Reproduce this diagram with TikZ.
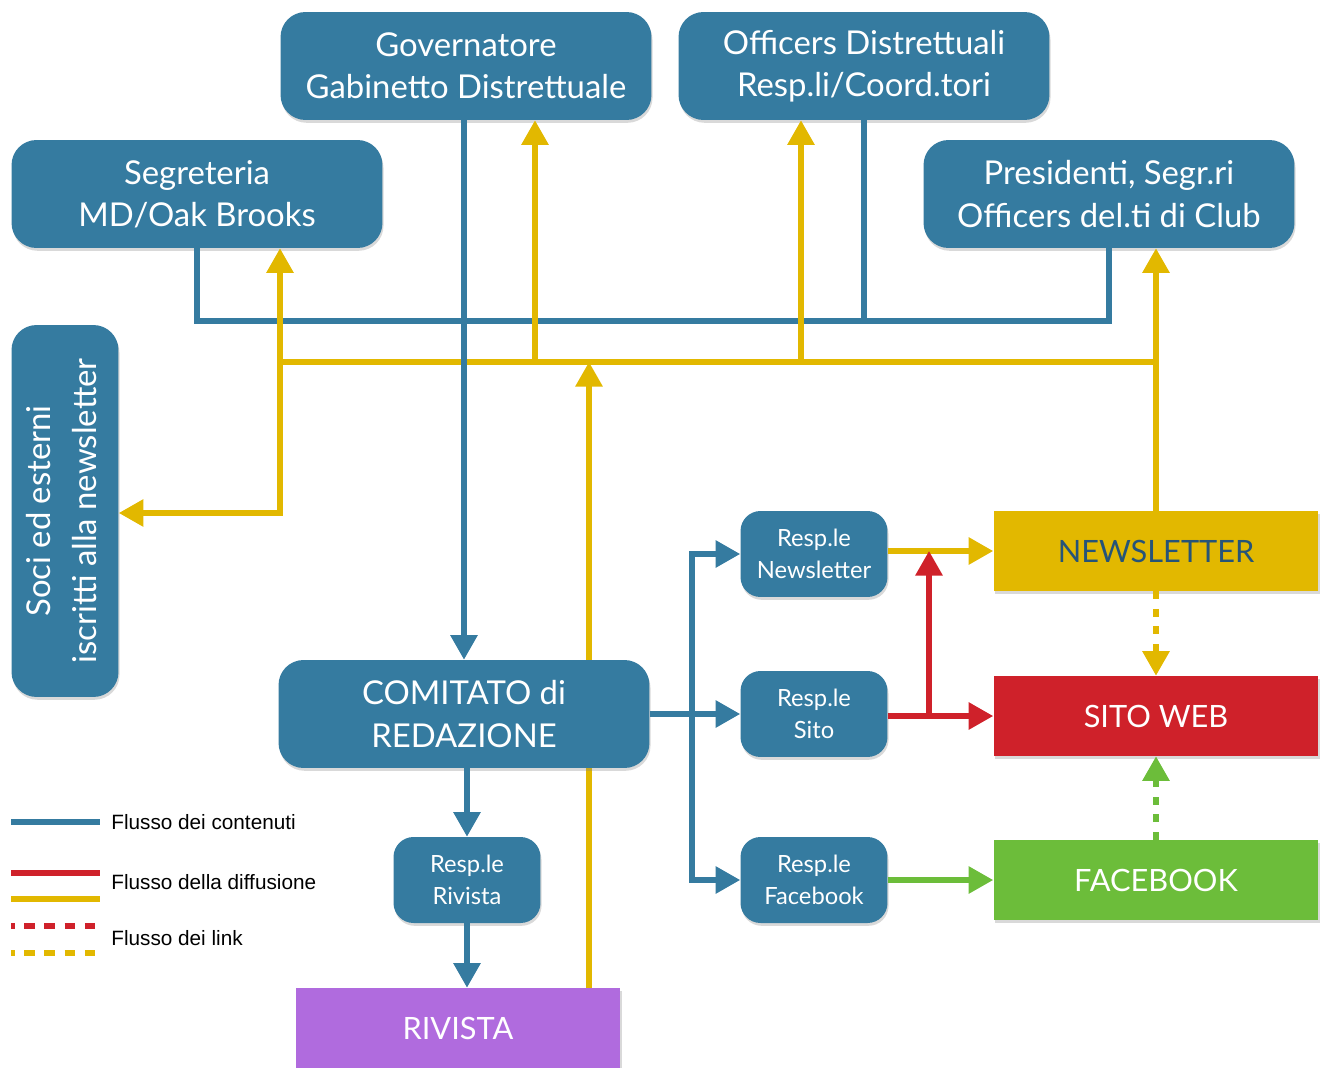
\documentclass[tikz,border=0pt]{standalone}
\usepackage{fontspec}
\setmainfont{Lato}
\newfontfamily\legendfont{Liberation Sans}
\usetikzlibrary{arrows.meta,shadows,backgrounds}

\definecolor{boxblue}{RGB}{53,123,160}
\definecolor{flowyellow}{RGB}{226,184,0}
\definecolor{flowred}{RGB}{207,33,42}
\definecolor{flowgreen}{RGB}{108,189,58}
\definecolor{flowpurple}{RGB}{176,107,222}
\definecolor{darktext}{RGB}{38,84,120}

\tikzset{
  box/.style={fill=boxblue, text=white, rounded corners=0.5cm, align=center,
    inner sep=0pt, font=\fontsize{18.7}{24}\selectfont,
    drop shadow={shadow xshift=0.6pt, shadow yshift=-1.6pt, opacity=0.3}},
  bigbox/.style={box, minimum width=7.42cm, minimum height=2.16cm},
  respbox/.style={box, rounded corners=0.4cm, minimum width=2.94cm,
    minimum height=1.72cm, font=\fontsize{13.5}{18}\selectfont},
  outbox/.style={minimum width=6.5cm, minimum height=1.6cm, inner sep=0pt,
    text=white, font=\fontsize{17.5}{20}\selectfont,
    drop shadow={shadow xshift=0.6pt, shadow yshift=-1.6pt, opacity=0.3}},
  flow/.style={line width=2.9pt},
  tip/.style={-{Triangle[length=14pt,width=15pt]}},
  bline/.style={flow, draw=boxblue},
  yline/.style={flow, draw=flowyellow},
  rline/.style={flow, draw=flowred},
  gline/.style={flow, draw=flowgreen},
  linkdash/.style={dash pattern=on 4.5pt off 5.5pt},
  legend/.style={anchor=west, inner sep=0pt, font=\legendfont\fontsize{11.8}{13}\selectfont}
}

\begin{document}
\begin{tikzpicture}[x=0.02cm, y=-0.02cm]
\useasboundingbox (0,0) rectangle (1322,1068);

% upper boxes
\node[bigbox] (gov) at (466,66) {Governatore\\Gabinetto Distrettuale};
\node[bigbox] (off) at (864,66) {Officers Distrettuali\\Resp.li/Coord.tori};
\node[bigbox] (segr) at (197,194) {Segreteria\\MD/Oak Brooks};
\node[bigbox] (pres) at (1109,194) {Presidenti, Segr.ri\\Officers del.ti di Club};
\node[box, minimum width=2.14cm, minimum height=7.44cm] (soci) at (65,511)
  {\rotatebox{90}{\begin{tabular}{@{}c@{}}Soci ed esterni\\[2pt]iscritti alla newsletter\end{tabular}}};

% lower boxes
\node[bigbox] (comitato) at (464,714) {COMITATO di\\REDAZIONE};
\node[respbox] (rnews) at (814,554) {Resp.le\\Newsletter};
\node[respbox] (rsito) at (814,714) {Resp.le\\Sito};
\node[respbox] (rfb) at (814,880) {Resp.le\\Facebook};
\node[respbox] (rriv) at (467,880) {Resp.le\\Rivista};

% outputs
\node[outbox, fill=flowyellow, text=darktext] (news) at (1156,551) {NEWSLETTER};
\node[outbox, fill=flowred] (sito) at (1156,716) {SITO WEB};
\node[outbox, fill=flowgreen] (fb) at (1156,880) {FACEBOOK};
\node[outbox, fill=flowpurple] (riv) at (458,1028) {RIVISTA};

\coordinate (blbus) at (0,321);
\coordinate (ybus) at (0,362);
\coordinate (yl) at (280,513);
\coordinate (ygov) at (535,362);
\coordinate (yoff) at (801,362);
\coordinate (yriv) at (589,362);
\coordinate (bsplit) at (692,716);
\coordinate (rup) at (929,716);

% riv feedback runs behind the comitato box
\begin{scope}[on background layer]
\draw[yline,tip] (riv.north -| yriv) -- (yriv);
\end{scope}

% contents bus
\draw[bline] (segr.south) |- (blbus -| pres.south) -- (pres.south);
\draw[bline] (off.south) -- (off.south |- blbus);

% diffusion bus
\draw[yline] (yl |- ybus) -- (news.north |- ybus);
\draw[yline,{Triangle[length=14pt,width=15pt]}-{Triangle[length=14pt,width=15pt]}]
  (yl |- segr.south) |- (soci.east |- yl);
\draw[yline,tip] (ygov) -- (ygov |- gov.south);
\draw[yline,tip] (yoff) -- (yoff |- off.south);
\draw[yline,tip] (news.north) -- (pres.south -| news.north);

\draw[bline,tip] (comitato.north |- gov.south) -- (comitato.north);

% redazione to the resp.li
\draw[bline,tip] (comitato.east |- rsito) -- (rsito.west);
\draw[bline,tip] (bsplit) |- (rnews.west);
\draw[bline,tip] (bsplit) |- (rfb.west);
\draw[bline,tip] (rriv.north |- comitato.south) -- (rriv.north);
\draw[bline,tip] (rriv.south) -- (rriv.south |- riv.north);

% resp.li to the outputs
\draw[yline,tip] (rnews.east |- news) -- (news.west);
\draw[rline,tip] (rsito.east |- sito) -- (sito.west);
\draw[rline,tip] (rup) -- (rup |- news);
\draw[gline,tip] (rfb.east |- fb) -- (fb.west);

% links
\draw[yline,linkdash,tip] (news.south) -- (sito.north);
\draw[gline,linkdash,tip] (fb.north) -- (sito.south);

% legend
\node[legend] (lgcont) at (111,822) {Flusso dei contenuti};
\node[legend] (lgdiff) at (111,882) {Flusso della diffusione};
\node[legend] (lglink) at (111,938) {Flusso dei link};
\draw[bline] (11,822) -- (100,822);
\draw[rline] (11,873) -- (100,873);
\draw[yline] (11,899) -- (100,899);
\draw[rline,dash pattern=on 6pt off 5.5pt,dash phase=4pt] (11,926) -- (100,926);
\draw[yline,dash pattern=on 6pt off 5.5pt,dash phase=4pt] (11,953) -- (100,953);
\end{tikzpicture}
\end{document}
